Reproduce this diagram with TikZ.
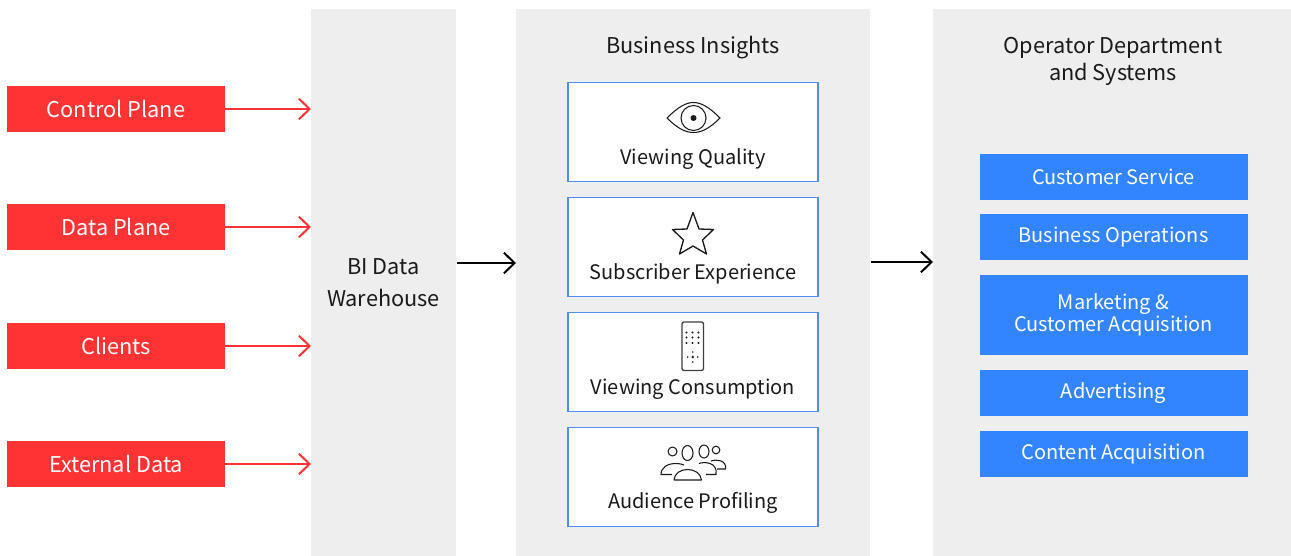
\documentclass[tikz,border=0pt]{standalone}
\usepackage{fontspec}
\setmainfont{Noto Sans CJK SC}
\usetikzlibrary{arrows.meta,calc}
\definecolor{panelgray}{HTML}{EEEEEE}
\definecolor{redbox}{HTML}{FF3333}
\definecolor{bluebox}{HTML}{3385FF}
\definecolor{blueline}{HTML}{4D8FF0}
\definecolor{inkc}{HTML}{1A1A1A}
\tikzset{
  x=0.75pt,y=-0.75pt,
  panel/.style={fill=panelgray,draw=none,inner sep=0pt,minimum height=411pt},
  redn/.style={fill=redbox,draw=none,text=white,minimum width=163.5pt,minimum height=34.5pt,inner sep=0pt,font=\fontsize{16.3}{19}\selectfont},
  bluen/.style={fill=bluebox,draw=none,text=white,minimum width=201pt,minimum height=34.5pt,inner sep=0pt,align=center,font=\fontsize{15}{16.5}\selectfont},
  card/.style={fill=white,draw=blueline,line width=1pt,minimum width=187.5pt,minimum height=74pt,inner sep=0pt},
  cardlabel/.style={text=inkc,inner sep=0pt,font=\fontsize{15}{18}\selectfont},
  head/.style={text=inkc,inner sep=0pt,align=center,font=\fontsize{16.3}{20.3}\selectfont},
  redarrow/.style={draw=redbox,line width=1.5pt,-{Straight Barb[length=8pt,width=15.5pt,line width=1.5pt]}},
  blackarrow/.style={draw=black,line width=1.5pt,-{Straight Barb[length=8pt,width=15.5pt,line width=1.5pt]}},
  icon/.style={draw=inkc,line width=0.8pt,fill=none,line join=round},
}
\begin{document}
\begin{tikzpicture}
\useasboundingbox (0,0) rectangle (1291,556);
% panels
\node[panel,minimum width=108.75pt,anchor=north west] (wh) at (311,8.5) {};
\node[panel,minimum width=265.5pt,anchor=north west] (bi) at (516,8.5) {};
\node[panel,minimum width=268.5pt,anchor=north west] (op) at (933,8.5) {};
% red sources
\node[redn] (cp) at (116,109) {Control Plane};
\node[redn] (dp) at (116,227) {Data Plane};
\node[redn] (cl) at (116,346) {Clients};
\node[redn] (ed) at (116,464) {External Data};
% warehouse text
\node[head,font=\fontsize{16.3}{24}\selectfont] (wht) at (383.5,283) {BI Data\\Warehouse};
% titles
\node[head] (bit) at (693,48) {Business Insights};
\node[head] (opt) at (1113,61.5) {Operator Department\\and Systems};
% cards
\node[card] (c1) at (693,132) {};
\node[card] (c2) at (693,247) {};
\node[card] (c3) at (693,362) {};
\node[card] (c4) at (693,477) {};
\node[cardlabel] (l1) at (693,159) {Viewing Quality};
\node[cardlabel] (l2) at (693,274) {Subscriber Experience};
\node[cardlabel] (l3) at (693,389) {Viewing Consumption};
\node[cardlabel] (l4) at (693,503) {Audience Profiling};
% blue boxes
\node[bluen] (b1) at (1113.5,177) {Customer Service};
\node[bluen] (b2) at (1113.5,237) {Business Operations};
\node[bluen,minimum height=60pt] (b3) at (1113.5,315) {Marketing \&\\Customer Acquisition};
\node[bluen] (b4) at (1113.5,393) {Advertising};
\node[bluen] (b5) at (1113.5,454) {Content Acquisition};
% arrows
\draw[redarrow] (cp.east) -- (cp.east -| wh.west);
\draw[redarrow] (dp.east) -- (dp.east -| wh.west);
\draw[redarrow] (cl.east) -- (cl.east -| wh.west);
\draw[redarrow] (ed.east) -- (ed.east -| wh.west);
\coordinate (a1) at (wh.east |- 0,263);
\coordinate (a2) at (bi.west |- 0,263);
\draw[blackarrow] (a1) -- (a2);
\coordinate (a3) at (bi.east |- 0,262);
\coordinate (a4) at (op.west |- 0,262);
\draw[blackarrow] (a3) -- (a4);
% eye icon
\draw[icon] (667,118) .. controls (678,107) and (686,102.5) .. (693.5,102.5) .. controls (701,102.5) and (709,107) .. (720,118) .. controls (709,129) and (701,132.5) .. (693.5,132.5) .. controls (686,132.5) and (678,129) .. (667,118) -- cycle;
\draw[icon] (693.5,118) circle (12.5);
\fill[inkc] (693.5,118) circle (3);
% star icon
\draw[icon,line width=1pt] (693,212.5) -- (699,229) -- (713.5,229.5) -- (702.5,240) -- (706.5,254) -- (693,246) -- (679.5,254) -- (683.5,240) -- (672.5,229.5) -- (687,229) -- cycle;
% remote icon
\draw[icon,draw=black!75,line width=1pt,rounded corners=1.5] (682,322) rectangle (703.5,370.5);
\foreach \yy in {332.5,337.5,343}{\foreach \xx in {686.5,692.5,698.5}{\fill[inkc] (\xx,\yy) circle (1.05);}}
\fill[inkc] (692.7,357) circle (1.4);
\fill[inkc] (692.7,352) circle (0.9);
\fill[inkc] (692.7,362) circle (0.9);
\fill[inkc] (687.7,357) circle (0.9);
\fill[inkc] (697.7,357) circle (0.9);
% audience icon
\draw[icon] (672.5,451.5) circle (4.5);
\draw[icon] (687.5,453) ellipse (5.5 and 7.5);
\draw[icon] (704,451.5) ellipse (5 and 6.5);
\draw[icon] (716,450) circle (3.8);
\draw[icon] (674,480) .. controls (675,466) and (700,466) .. (701.5,480) -- cycle;
\draw[icon] (672,474.5) -- (661,474.5) .. controls (661,467) and (668,463.5) .. (676,463.5) .. controls (679,463.5) and (682,464) .. (684,465);
\draw[icon] (699,463.5) .. controls (704,461.5) and (718,462) .. (716,474.5) -- (706,474.5);
\draw[icon] (711,461) .. controls (716,459) and (727,460) .. (725.5,469) -- (717,469);
\end{tikzpicture}
\end{document}
